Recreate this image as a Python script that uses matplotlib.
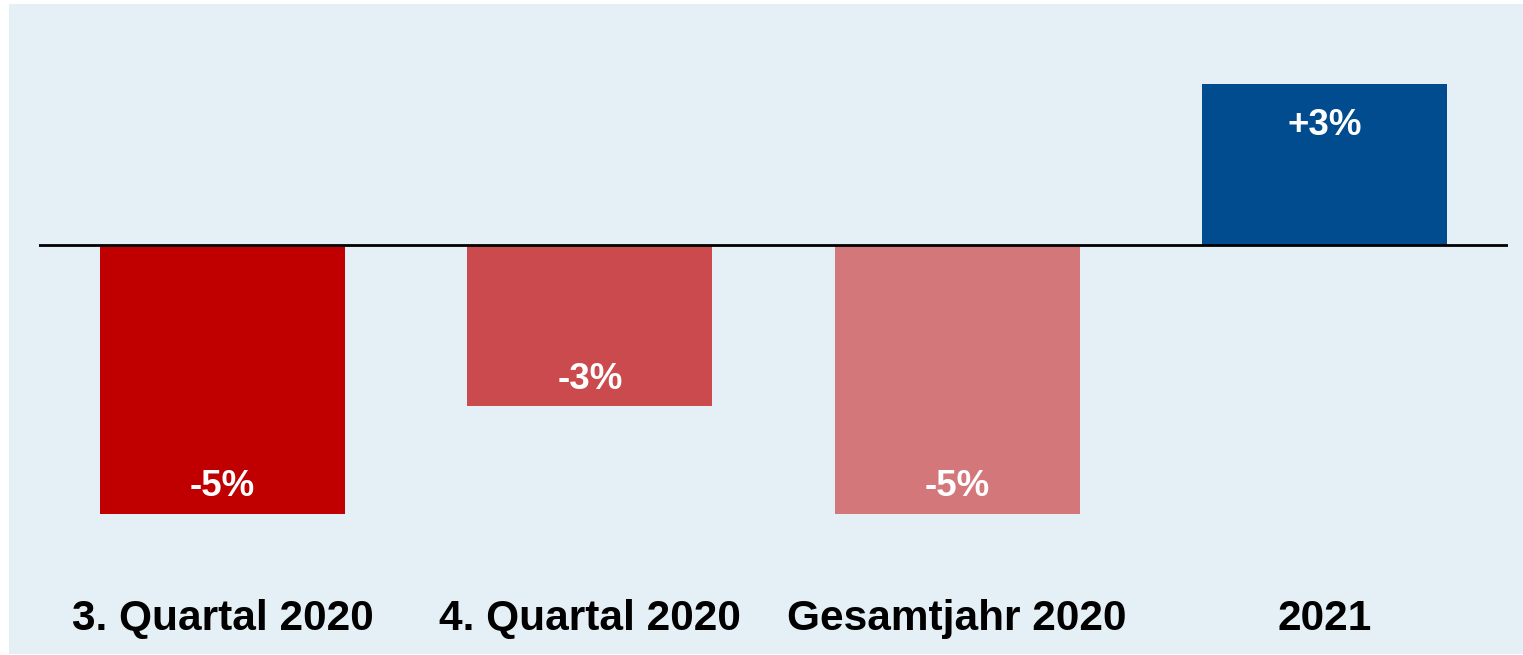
import matplotlib.pyplot as plt

# Data
categories = ['3. Quartal 2020', '4. Quartal 2020', 'Gesamtjahr 2020', '2021']
values = [-5, -3, -5, 3]
value_labels = ['-5%', '-3%', '-5%', '+3%']
colors = ['#C00000', '#CB4A4D', '#D4777A', '#004C8E']

plt.rcParams['font.family'] = ['Liberation Sans', 'DejaVu Sans']

W, H = 1523, 655
fig = plt.figure(figsize=(W / 100, H / 100), dpi=100, facecolor='white')

# light blue background panel
bg = fig.add_axes([9 / W, 1 / H, 1 - 9 / W, (H - 5) / H], zorder=0)
bg.set_facecolor('#E4EFF6')
bg.set_xticks([])
bg.set_yticks([])
for s in bg.spines.values():
    s.set_visible(False)

ax = fig.add_axes([39 / W, 1 / H, 1469 / W, 650 / H], zorder=1)
ax.set_facecolor('none')
px = 53.8  # pixels per unit
ax.set_xlim(-0.5, 3.5)
ax.set_ylim(-(654 - 245) / px, (245 - 4) / px)

x = range(len(categories))
ax.bar(x, values, width=0.667, color=colors, zorder=2)
ax.axhline(0, color='black', lw=2, zorder=3)

for i, (v, lab) in enumerate(zip(values, value_labels)):
    if v < 0:
        y = v + 27 / px
    else:
        y = v - 42 / px
    ax.text(i, y, lab, ha='center', va='center', color='white',
            fontsize=26.5, fontweight='bold', zorder=4)

for i, cat in enumerate(categories):
    ax.text(i, -(619 - 245) / px, cat, ha='center', va='center',
            color='black', fontsize=30.5, fontweight='bold')

ax.axis('off')

fig.savefig('out.png', dpi=100, facecolor='white')
